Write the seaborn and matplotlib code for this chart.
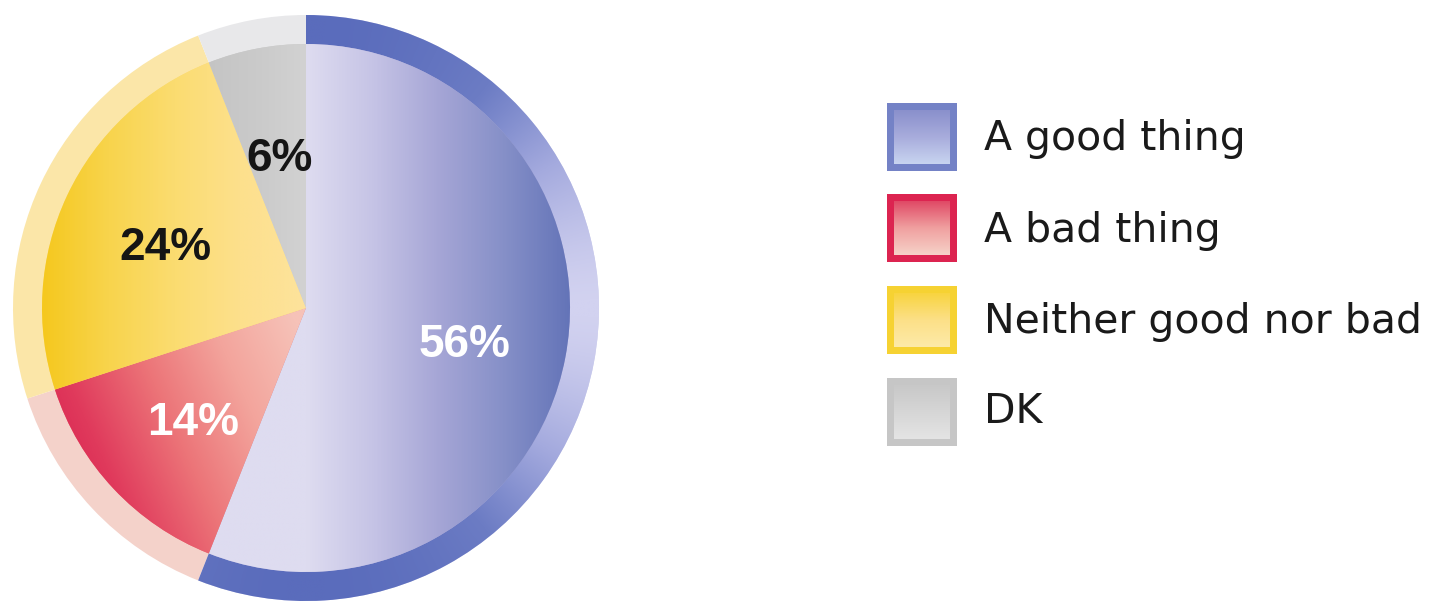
import numpy as np
import matplotlib
matplotlib.use("Agg")
import matplotlib.pyplot as plt
from matplotlib.patches import Rectangle
import seaborn as sns

# Survey answers, clockwise from twelve o'clock
categories = ["A good thing", "A bad thing", "Neither good nor bad", "DK"]
shares = [56, 14, 24, 6]

sns.set_theme(style="white")
plt.rcParams["font.family"] = ["DejaVu Sans"]

W, H = 1431, 606
fig = plt.figure(figsize=(W / 100, H / 100), dpi=100)
ax = fig.add_axes([0, 0, 1, 1])
fig.patch.set_facecolor("white")

cx, cy = 306, H - 308
r_out, r_in = 293, 264

# colour ramps (left -> right inside each slice)
slice_ramps = {
    "A good thing": ["#dedcf0", "#c6c4e6", "#a6a6d6", "#8690c8", "#6474b8"],
    "A bad thing": ["#d4164a", "#e03a5c", "#ec7478", "#f3a49c", "#f6c2b8"],
    "Neither good nor bad": ["#f5c81e", "#f8d44c", "#fbdc70", "#fde08c", "#fde39c"],
    "DK": ["#c4c4c4", "#cacaca", "#d2d2d2"],
}
ring_flat = {
    "A good thing": "#cfd0ee",
    "A bad thing": "#f4d2ca",
    "Neither good nor bad": "#fbe6a8",
    "DK": "#e8e8ea",
}
good_ring_ramp = ["#d2d2f0", "#a4aade", "#6c7cc4", "#5a6cbc"]

label_colours = {"A good thing": "white", "A bad thing": "white",
                 "Neither good nor bad": "#151515", "DK": "#151515"}

# outer ring (drawn as a full pie underneath the main one)
ring_wedges, _ = ax.pie(
    shares, radius=r_out, center=(cx, cy), startangle=90, counterclock=False,
    colors=[ring_flat[c] for c in categories],
    wedgeprops=dict(linewidth=0), frame=True,
)
for w in ring_wedges:
    w.set_zorder(1)

# grid used to paint the gradients
n = 700
xs = np.linspace(cx - r_out, cx + r_out, n)
ys = np.linspace(cy - r_out, cy + r_out, n)
X, Y = np.meshgrid(xs, ys)
extent = (cx - r_out, cx + r_out, cy - r_out, cy + r_out)

# the blue ring darkens toward top and bottom
theta = np.arctan2(Y - cy, X - cx)
t_ring = np.abs(np.sin(theta)) ** 1.6
ring_cmap = sns.blend_palette(good_ring_ramp, as_cmap=True)
im = ax.imshow(ring_cmap(t_ring), extent=extent, origin="lower",
               interpolation="bilinear", zorder=1.5)
im.set_clip_path(ring_wedges[0])

# main pie
wedges, texts, autotexts = ax.pie(
    shares, radius=r_in, center=(cx, cy), startangle=90, counterclock=False,
    colors=[slice_ramps[c][len(slice_ramps[c]) // 2] for c in categories],
    wedgeprops=dict(linewidth=0), frame=True,
    autopct=lambda p: f"{p:.0f}%", pctdistance=0.6,
    textprops=dict(fontsize=33, fontweight="bold", family=["Liberation Sans", "DejaVu Sans"]),
)

# horizontal span of each slice's colour ramp
spans = {
    "A good thing": (cx, cx + r_in),
    "A bad thing": (cx - r_in + 10, cx),
    "Neither good nor bad": (cx - r_in, cx),
    "DK": (cx - 100, cx),
}
for w, cat, txt in zip(wedges, categories, autotexts):
    w.set_zorder(2)
    x0, x1 = spans[cat]
    t = np.clip((X - x0) / (x1 - x0), 0, 1)
    if cat == "A bad thing":
        # slightly deeper toward the lower left
        t = np.clip(0.75 * t + 0.35 * np.clip((Y - (cy - r_in)) / r_in, 0, 1) - 0.05, 0, 1)
    cmap = sns.blend_palette(slice_ramps[cat], as_cmap=True)
    img = ax.imshow(cmap(t), extent=extent, origin="lower",
                    interpolation="bilinear", zorder=2.5)
    img.set_clip_path(w)
    txt.set_color(label_colours[cat])
    txt.set_zorder(4)
    # centre the digits themselves rather than the full text box
    px, py = txt.get_position()
    txt.set_position((px + 3, py - 7))

# legend
sw_x0, sw_w, sw_h = 887, 70, 68
sw_tops = [103, 194, 286, 378]
text_baselines = [150, 242, 333, 423]
swatch_style = {
    "A good thing": ("#7482c6", ["#8a90cc", "#a8acdc", "#c8d4f0"]),
    "A bad thing": ("#dc2450", ["#e04a66", "#f0a0a0", "#f6d2c8"]),
    "Neither good nor bad": ("#f6d232", ["#f8d440", "#fce088", "#fdeaa8"]),
    "DK": ("#c6c6c6", ["#c8c8c8", "#d6d6d6", "#e4e4e4"]),
}
sy = np.linspace(1, 0, 100)[:, None] * np.ones((1, 10))
for cat, top, base in zip(categories, sw_tops, text_baselines):
    frame_col, ramp = swatch_style[cat]
    y0 = H - top - sw_h
    ax.add_patch(Rectangle((sw_x0, y0), sw_w, sw_h, facecolor=frame_col,
                           edgecolor="none", zorder=2))
    cmap = sns.blend_palette(ramp, as_cmap=True)
    inset = 7
    ax.imshow(cmap(1 - sy), extent=(sw_x0 + inset, sw_x0 + sw_w - inset,
                                    y0 + inset, y0 + sw_h - inset),
              origin="upper", interpolation="bilinear", zorder=2.5)
    ax.text(984, H - base, cat, fontsize=29.5, color="#1a1a1a",
            ha="left", va="baseline", zorder=4)

ax.set_xlim(0, W)
ax.set_ylim(0, H)
ax.set_aspect("equal")
ax.axis("off")

fig.savefig("out.png", dpi=100, facecolor="white")
